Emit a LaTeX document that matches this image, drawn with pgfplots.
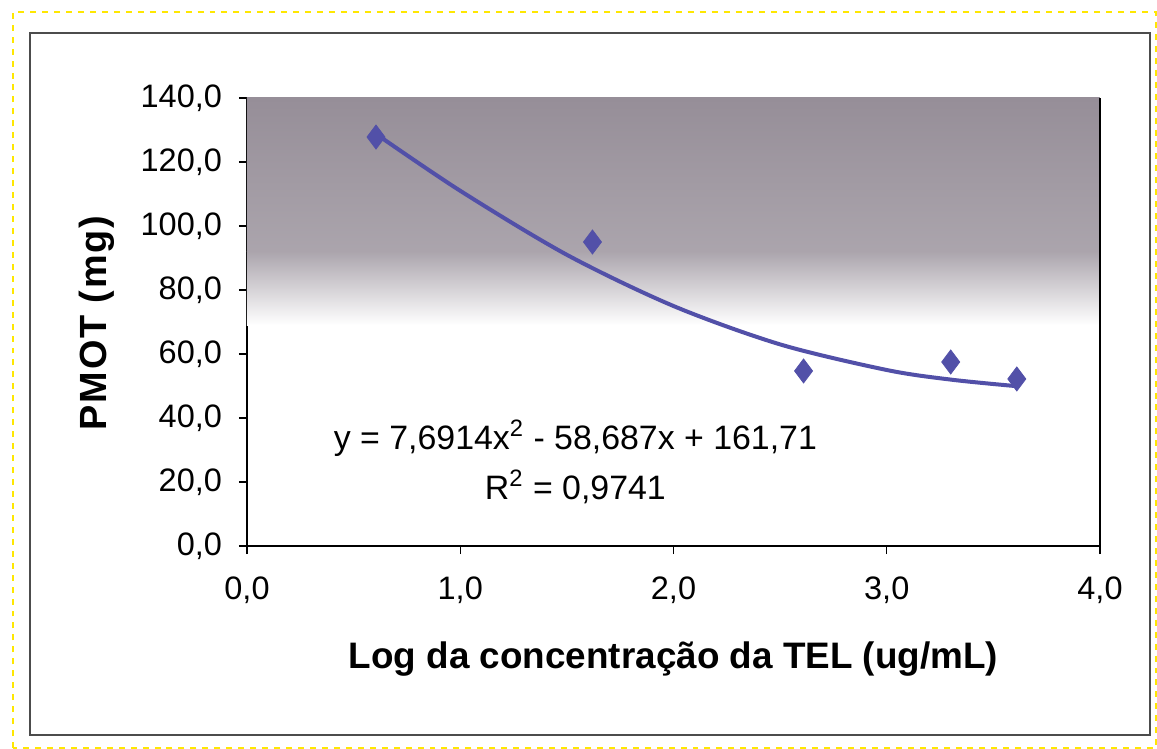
\documentclass[border=0pt]{standalone}
\usepackage{fontspec}
\setmainfont{Liberation Sans}
\usepackage{pgfplots}
\pgfplotsset{compat=1.18}
\definecolor{serie}{RGB}{82,80,168}
\definecolor{fundo}{RGB}{150,142,152}

\begin{document}
\begin{tikzpicture}
\begin{axis}[
  scale only axis,
  width=426.5bp, height=224bp,
  xmin=0, xmax=4, ymin=0, ymax=140,
  xtick={0,1,2,3,4}, ytick={0,20,...,140},
  axis lines=left,
  axis line style={-, black, line width=0.6pt},
  tick align=outside,
  major tick length=4bp,
  tick style={black, line width=0.6pt},
  /pgf/number format/.cd, fixed, fixed zerofill, precision=1, use comma, assume math mode=true,
  /pgfplots/.cd,
  ticklabel style={font=\fontsize{16.3}{19}\selectfont},
  yticklabel style={xshift=-5bp},
  xticklabel style={yshift=-8bp},
  xlabel={\textbf{Log da concentração da TEL (ug/mL)}},
  ylabel={\textbf{PMOT (mg)}},
  xlabel style={font=\fontsize{18.5}{22}\selectfont, yshift=-12bp},
  ylabel style={font=\fontsize{19}{22}\selectfont\addfontfeature{LetterSpace=5}, yshift=6bp},
  clip=false,
]
\fill[top color=fundo, bottom color=fundo!80, draw=none]
  (axis cs:0,92) rectangle (axis cs:4,140);
\fill[top color=fundo!80, bottom color=white, draw=none]
  (axis cs:0,69) rectangle (axis cs:4,92.05);
\draw[black, line width=0.6pt] (rel axis cs:1,0) -- (rel axis cs:1,1);

\addplot[serie, line width=2bp, smooth, no marks] coordinates {
  (0.6,129) (1.0,111) (1.5,91) (2.0,75) (2.5,63) (3.0,55) (3.3,52) (3.6,50)
};
\addplot[only marks, mark=diamond*, mark size=6bp, mark options={fill=serie, draw=serie}] coordinates {
  (0.605,127.8) (1.62,95) (2.61,54.7) (3.30,57.5) (3.61,52.2)
};

\node[align=center, font=\fontsize{17}{25}\selectfont] at (axis cs:1.54,26.3)
  {y = 7,6914x\textsuperscript{2} - 58,687x + 161,71\\R\textsuperscript{2} = 0,9741};

\draw[black!70, line width=0.6pt]
  ([xshift=-108.5bp, yshift=-94.5bp]rel axis cs:0,0) rectangle ([xshift=25bp, yshift=32.5bp]rel axis cs:1,1);
\draw[yellow!90!orange, line width=1bp, dashed]
  ([xshift=-117bp, yshift=-101bp]rel axis cs:0,0) rectangle ([xshift=28bp, yshift=43bp]rel axis cs:1,1);
\path[use as bounding box]
  ([xshift=-123.5bp, yshift=-101.5bp]rel axis cs:0,0) rectangle ([xshift=28.5bp, yshift=49bp]rel axis cs:1,1);
\end{axis}
\end{tikzpicture}
\end{document}
